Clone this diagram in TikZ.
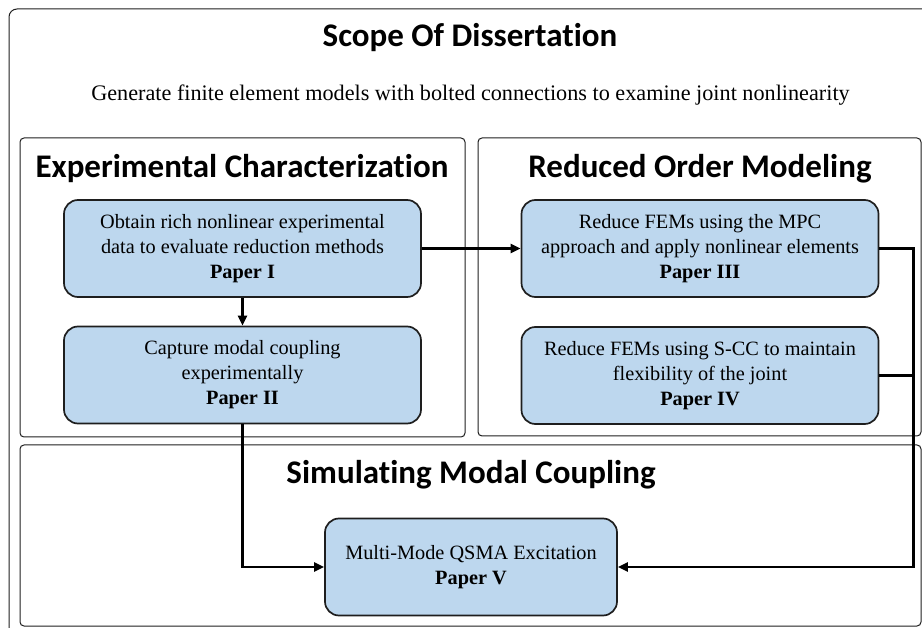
\documentclass[tikz,border=0pt]{standalone}
\usepackage{fontspec}
\setmainfont{Liberation Serif}
\newfontfamily\calfont{Carlito}[Ligatures=CommonOff]
\usetikzlibrary{arrows.meta}
\definecolor{boxblue}{HTML}{BDD7EE}
\definecolor{edge}{HTML}{1E1E1E}
\begin{document}
\begin{tikzpicture}[x=1pt,y=-1pt,
  panel/.style={draw=edge, line width=1pt, rounded corners=4pt},
  paperbox/.style={draw=edge, fill=boxblue, line width=1.7pt, rounded corners=14pt,
    minimum width=357pt, minimum height=97pt, align=center,
    font=\fontsize{20.3}{25}\selectfont, inner sep=0pt},
  heading/.style={font=\calfont\bfseries\fontsize{33}{33}\selectfont, inner sep=0pt, anchor=base},
  conn/.style={line width=2.3pt, -{Triangle[length=10pt,width=9pt]}},
  wire/.style={line width=2.3pt},
]
\useasboundingbox (0,0) rectangle (922,628);
\clip (0,0) rectangle (922,628);
% outer frame (runs past the right and bottom edges)
\draw[panel, rounded corners=8pt] (9,9) rectangle (940,645);
% panels
\draw[panel] (20,138) rectangle (465,437);
\draw[panel] (478,138) rectangle (921,436);
\draw[panel] (20,445) rectangle (921,626);
% headings
\node[heading] (title) at (470,47) {Scope Of Dissertation};
\node[anchor=base, inner sep=0pt, font=\fontsize{22.2}{26}\selectfont] (sub) at (470.5,101)
  {Generate finite element models with bolted connections to examine joint nonlinearity};
\node[heading] (hexp) at (242,178) {Experimental Characterization};
\node[heading] (hrom) at (700,178) {Reduced Order Modeling};
\node[heading] (hsim) at (471,484) {Simulating Modal Coupling};
% paper boxes
\node[paperbox] (p1) at (242.5,248.5) {Obtain rich nonlinear experimental\\data to evaluate reduction methods\\\textbf{Paper I}};
\node[paperbox] (p2) at (242.5,375) {Capture modal coupling\\experimentally\\\textbf{Paper II}};
\node[paperbox] (p3) at (700,248.5) {Reduce FEMs using the MPC\\approach and apply nonlinear elements\\\textbf{Paper III}};
\node[paperbox] (p4) at (700,375.5) {Reduce FEMs using S-CC to maintain\\flexibility of the joint\\\textbf{Paper IV}};
\node[paperbox, minimum width=292pt, minimum height=97pt] (p5) at (471,567) {Multi-Mode QSMA Excitation\\\textbf{Paper V}};
% connectors
\draw[conn] (p1) -- (p2);
\draw[conn] (p1) -- (p3);
\draw[conn] (p3.east) -- ++(34,0) coordinate (rail) |- (p5.east);
\draw[wire] (p4.east) -- (p4.east -| rail);
\draw[conn] (p2.south) |- (p5.west);
\end{tikzpicture}
\end{document}
